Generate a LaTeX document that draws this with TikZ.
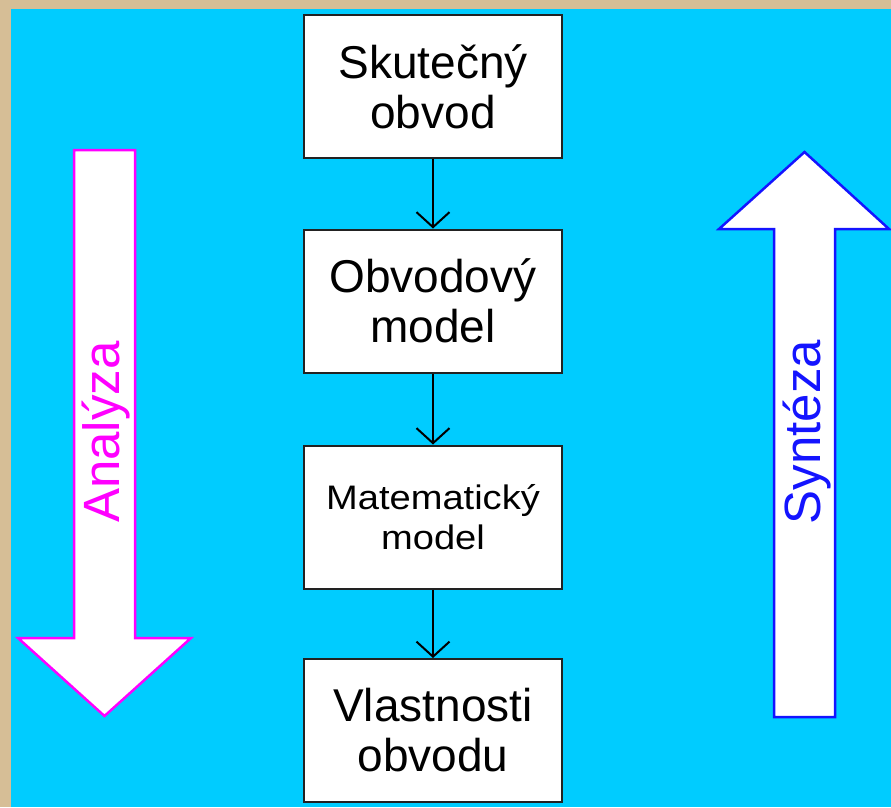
\documentclass[tikz,border=0pt]{standalone}
\usepackage{fontspec}
\setmainfont{Liberation Sans}
\newfontfamily\widesans[FakeStretch=1.12]{Liberation Sans}
\usetikzlibrary{arrows.meta}
\definecolor{frame}{RGB}{214,190,150}
\definecolor{sky}{RGB}{0,204,255}
\definecolor{boxline}{RGB}{34,34,34}
\definecolor{anmag}{RGB}{255,0,255}
\definecolor{synblue}{RGB}{20,20,255}
\tikzset{
  stage/.style={draw=boxline, line width=2pt, fill=white, minimum width=258pt,
    minimum height=143pt, inner sep=0pt, align=center, text=black},
  bigtext/.style={font=\fontsize{46}{50}\selectfont},
  smalltext/.style={font=\widesans\fontsize{34}{40}\selectfont},
  flow/.style={draw=black, line width=2pt, -{Straight Barb[length=15pt,width=33pt,line width=2pt]}},
  blockarrow/.style={fill=white, line width=2.5pt, line join=miter},
  sidelabel/.style={rotate=90, inner sep=0pt, font=\fontsize{51}{55}\selectfont}
}
\begin{document}
\begin{tikzpicture}[x=1pt,y=-1pt]
  % background: tan frame with cyan panel
  \fill[frame] (0,0) rectangle (891,807);
  \fill[sky] (11,9) rectangle (891,807);
  \useasboundingbox (0,0) rectangle (891,807);

  % analysis arrow (downwards)
  \draw[blockarrow, draw=anmag] (74,150) -- (135,150) -- (135,638) -- (191,638)
    -- (104.5,716) -- (18,638) -- (74,638) -- cycle;
  \node[sidelabel, text=anmag] (analyza) at (106,432) {Analýza};

  % synthesis arrow (upwards)
  \draw[blockarrow, draw=synblue] (774,717) -- (835,717) -- (835,229) -- (889,229)
    -- (804.5,152) -- (719,229) -- (774,229) -- cycle;
  \node[sidelabel, text=synblue] (synteza) at (807,432) {Syntéza};

  % stages
  \node[stage, bigtext] (real) at (433,86.5) {Skutečný\\obvod};
  \node[stage, bigtext] (circ) at (433,301) {Obvodový\\model};
  \node[stage, smalltext] (math) at (433,517) {Matematický\\model};
  \node[stage, bigtext] (prop) at (433,730.5) {Vlastnosti\\obvodu};

  \draw[flow] (real) -- (circ);
  \draw[flow] (circ) -- (math);
  \draw[flow] (math) -- (prop);
\end{tikzpicture}
\end{document}
